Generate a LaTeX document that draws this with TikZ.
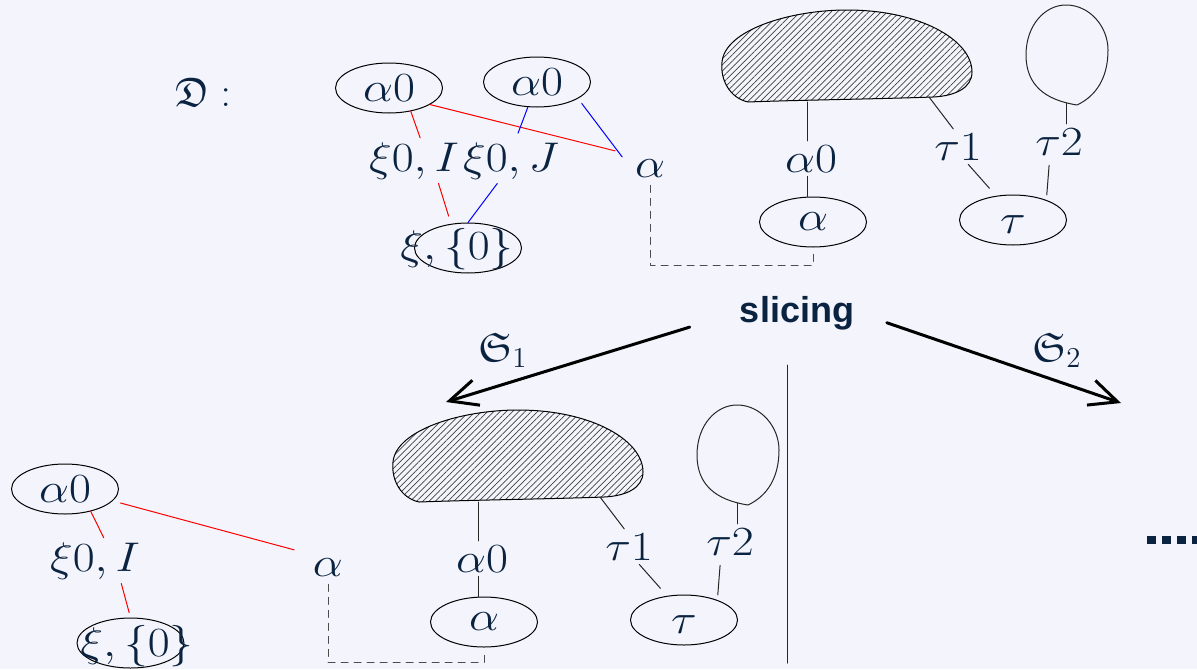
\documentclass[tikz,border=0pt]{standalone}
\usepackage{amssymb}
\usepackage{fontspec}
\newfontfamily\slicefont{Liberation Sans}
\usetikzlibrary{shapes.geometric,arrows.meta,patterns.meta}
\definecolor{ink}{HTML}{0A2340}
\definecolor{bgc}{HTML}{F4F4FC}
\newcommand{\wm}[1]{\scalebox{1.15}[1]{$#1$}}
\tikzset{
	oval/.style={ellipse, draw=black, line width=0.5pt, minimum width=53.5pt, minimum height=25pt, inner sep=0pt, text=ink, font=\fontsize{20.5}{24}\selectfont},
	lbl/.style={inner sep=2pt, text=ink, font=\fontsize{20.5}{24}\selectfont},
	thinl/.style={line width=0.5pt, black!85},
	redl/.style={line width=0.5pt, red},
	bluel/.style={line width=0.5pt, blue},
	dashl/.style={line width=0.5pt, black!70, dash pattern=on 3.5pt off 3pt},
	bigarrow/.style={line width=1.5pt, -{Straight Barb[length=14pt,width=13pt]}},
	hatch/.style={draw=black, line width=0.5pt, pattern={Lines[angle=45,distance=2.2pt,line width=0.35pt]}, pattern color=black!75}
}
\newcommand{\slicepart}[1]{%
	\draw[hatch] (748,102) .. controls (730,98) and (720,80) .. (722,62) .. controls (725,30) and (790,10) .. (847,10) .. controls (920,10) and (972,40) .. (972,72) .. controls (972,88) and (955,96) .. (933,97) .. controls (880,99) and (800,100) .. (748,102) -- cycle;
	\draw[thinl] (1077,105) .. controls (1045,100) and (1026,85) .. (1026,55) .. controls (1026,25) and (1045,5) .. (1066,5) .. controls (1090,5) and (1108,27) .. (1108,50) .. controls (1108,78) and (1096,96) .. (1077,105) -- cycle;
	\coordinate (#1bl) at (807,102);
	\coordinate (#1br) at (929,97);
	\coordinate (#1lp) at (1066,103);
	\node[lbl, anchor=base] (#1a0) at (811,172) {\wm{\alpha0}};
	\node[oval] (#1al) at (813,222) {\wm{\alpha}};
	\node[lbl, anchor=base] (#1t1) at (958,160) {\wm{\tau1}};
	\node[lbl, anchor=base] (#1t2) at (1059,155) {\wm{\tau2}};
	\node[oval, text height=13pt, text depth=0pt] (#1ta) at (1013,220) {\wm{\tau}};
	\draw[thinl] (#1bl) -- (#1bl |- #1a0.north);
	\draw[thinl] (#1a0.south -| #1bl) -- (#1bl |- #1al.north);
	\draw[thinl] (#1br) -- (#1t1.105);
	\draw[thinl, shorten >=5pt] (#1t1.-60) -- (#1ta.125);
	\draw[thinl] (#1lp) -- (#1lp |- #1t2.north);
	\draw[thinl, shorten <=3pt, shorten >=2.5pt] (#1t2.-118) -- (#1ta.31);
}
\begin{document}
\begin{tikzpicture}[x=0.5pt, y=-0.5pt, line join=round, line cap=round]
	\fill[bgc] (0,0) rectangle (1197,669);
	\useasboundingbox (0,0) rectangle (1197,669);
	\node[lbl] (dlab) at (203,92) {$\mathfrak{D}:$};
	\node[oval] (A1) at (389,88) {\wm{\alpha0}};
	\node[oval] (A2) at (537,82) {\wm{\alpha0}};
	\node[lbl, anchor=base] (xiI) at (414,171) {\wm{\xi0,I}};
	\node[lbl, anchor=base] (xiJ) at (511,171) {\wm{\xi0,J}};
	\node[lbl, anchor=base] (alab) at (650,177) {\wm{\alpha}};
	\node[oval, label={[lbl, xshift=-5.5pt, yshift=-0.75pt]center:\wm{\xi,\{0\}}}] (xz) at (468,248) {};
	\draw[redl, shorten >=8pt] (A1.-22) -- (alab.north west);
	\draw[redl] (A1.-47) -- (xiI.75);
	\draw[redl, shorten >=4pt] (xiI.-43) -- (xz.125);
	\draw[bluel, shorten >=2.5pt] (A2.-110) -- (xiJ.77);
	\draw[bluel, shorten <=3pt, shorten >=7pt] (A2.-22) -- (alab.west);
	\draw[bluel] (xiJ.-121) -- (xz.north);
	\slicepart{t}
	\draw[dashl, shorten <=2pt, shorten >=1.5pt] (alab.south) -- ++(0,84) -| (tal.south);
	\node[inner sep=2pt, text=ink, font=\slicefont\bfseries\fontsize{18}{21}\selectfont] (slice) at (797,313) {slicing};
	\coordinate (s1tip) at (446,402);
	\coordinate (s2tip) at (1121,403);
	\draw[bigarrow, shorten <=24pt] (slice.west) -- (s1tip);
	\draw[bigarrow, shorten <=15pt] (slice.east) -- (s2tip);
	\node[lbl] (s1) at (503,350) {$\mathfrak{S}_1$};
	\node[lbl] (s2) at (1057,350) {$\mathfrak{S}_2$};
	\draw[thinl] (787,365) -- (787,663);
	\node[oval] (bA1) at (65,489) {\wm{\alpha0}};
	\node[lbl, anchor=base] (bxiI) at (95,571) {\wm{\xi0,I}};
	\node[lbl, anchor=base] (balab) at (328,576) {\wm{\alpha}};
	\node[oval, label={[lbl, xshift=3.25pt, yshift=-1.75pt]center:\wm{\xi,\{0\}}}] (bxz) at (130.5,643) {};
	\draw[redl, shorten <=4pt, shorten >=7.5pt] (bA1.-14) -- (balab.north west);
	\draw[redl] (bA1.-41) -- (bxiI.69);
	\draw[redl, shorten >=2.5pt] (bxiI.-41) -- (bxz.north);
	\begin{scope}[shift={(-329,400)}]
		\slicepart{b}
	\end{scope}
	\draw[dashl, shorten <=2pt, shorten >=2.5pt] (balab.south) -- ++(0,82) -| (bal.south);
	\foreach \i in {0,...,3}
		\fill[ink] (1147+15*\i,536) rectangle ++(9,8);
\end{tikzpicture}
\end{document}
